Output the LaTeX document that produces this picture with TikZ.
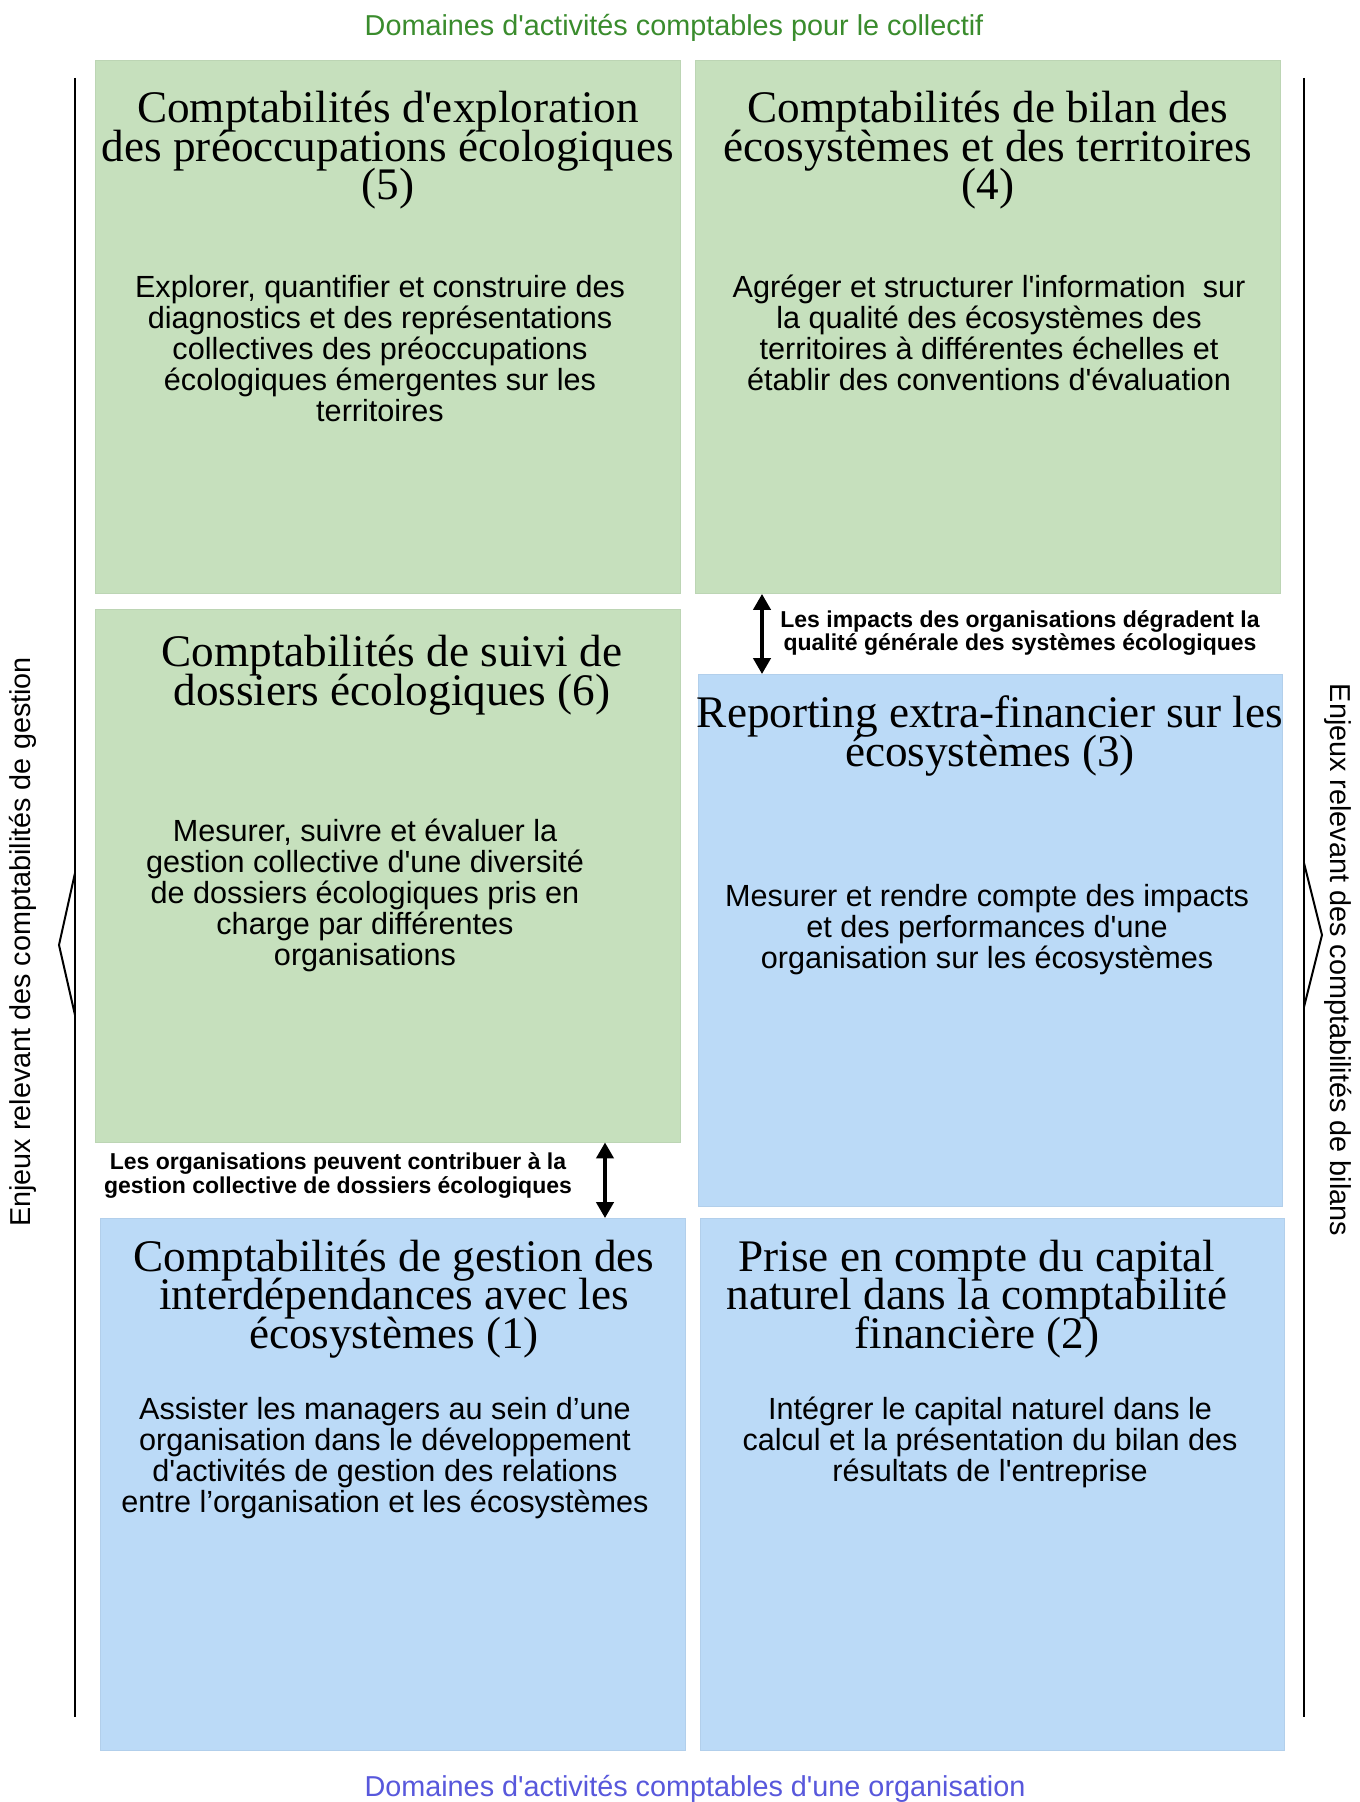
\documentclass[tikz,border=0pt]{standalone}
\usepackage{fontspec}
\setmainfont{Liberation Serif}
\setsansfont{Liberation Sans}
\usetikzlibrary{arrows.meta}
\newcommand{\apos}{\textquotesingle}
\newcommand{\tightlines}{\lineskiplimit=-30pt\relax\lineskip=0pt\relax}
\newcommand{\titlefont}{\fontsize{22.6}{19.3}\selectfont\tightlines}
\newcommand{\bodyfont}{\sffamily\fontsize{15.3}{15.5}\selectfont\tightlines}
\newcommand{\labelfont}{\sffamily\bfseries\fontsize{11.5}{11.6}\selectfont\tightlines}
\definecolor{boxgreen}{RGB}{198,224,189}
\definecolor{boxblue}{RGB}{187,218,247}
\definecolor{headgreen}{RGB}{58,140,45}
\definecolor{headblue}{RGB}{88,88,220}
\tikzset{
  greenbox/.style={fill=boxgreen,draw=boxgreen!95!black,line width=0.4pt,minimum width=292.5pt,minimum height=266.5pt,inner sep=0pt},
  bluebox/.style={fill=boxblue,draw=boxblue!95!black,line width=0.4pt,minimum width=292pt,minimum height=266pt,inner sep=0pt},
  titletext/.style={font={\titlefont},align=center,inner sep=0pt},
  bodytext/.style={font={\bodyfont},align=center,inner sep=0pt},
  arrowlabel/.style={font={\labelfont},align=center,inner sep=0pt},
  headtext/.style={font={\sffamily\fontsize{14.4}{15}\selectfont},inner sep=0pt},
  dblarrow/.style={line width=2pt,>={Triangle[width=8.5pt,length=8pt]},<->},
  sideline/.style={line width=1pt,line join=miter}
}
\begin{document}
\begin{tikzpicture}[x=0.5pt,y=-0.5pt]
\fill[white] (0,0) rectangle (1359,1802);
\useasboundingbox (0,0) rectangle (1359,1802);
\node[headtext,text=headgreen] (top) at (674,28) {Domaines d\apos activités comptables pour le collectif};
\node[headtext,text=headblue] (bot) at (695,1789) {Domaines d\apos activités comptables d\apos une organisation};
\node[greenbox] (b5) at (388,327) {};
\node[greenbox] (b4) at (988,327) {};
\node[greenbox] (b6) at (388,875.5) {};
\node[bluebox] (b3) at (990.5,940.5) {};
\node[bluebox,minimum width=292.5pt] (b1) at (393,1484.5) {};
\node[bluebox] (b2) at (992,1484.5) {};
\node[titletext] (t5) at (388,150.5) {Comptabilités d\apos exploration\\des préoccupations écologiques\\(5)};
\node[bodytext] (d5) at (380,348.5) {Explorer, quantifier et construire des\\diagnostics et des représentations\\collectives des préoccupations\\écologiques émergentes sur les\\territoires};
\node[titletext] (t4) at (988,150.5) {Comptabilités de bilan des\\écosystèmes et des territoires\\(4)};
\node[bodytext] (d4) at (989,333) {Agréger et structurer l\apos information~~sur\\la qualité des écosystèmes des\\territoires à différentes échelles et\\établir des conventions d\apos évaluation};
\node[titletext] (t6) at (392,675) {Comptabilités de suivi de\\dossiers écologiques (6)};
\node[bodytext] (d6) at (365,895) {Mesurer, suivre et évaluer la\\gestion collective d\apos une diversité\\de dossiers écologiques pris en\\charge par différentes\\organisations};
\node[titletext] (t3) at (990,736) {Reporting extra-financier sur les\\écosystèmes (3)};
\node[bodytext] (d3) at (987,930) {Mesurer et rendre compte des impacts\\et des performances d\apos une\\organisation sur les écosystèmes};
\node[titletext] (t1) at (394,1299) {Comptabilités de gestion des\\interdépendances avec les\\écosystèmes (1)};
\node[bodytext] (d1) at (385,1458.5) {Assister les managers au sein d’une\\organisation dans le développement\\d\apos activités de gestion des relations\\entre l’organisation et les écosystèmes};
\node[titletext] (t2) at (977,1299) {Prise en compte du capital\\naturel dans la comptabilité\\financière (2)};
\node[bodytext] (d2) at (990,1442) {Intégrer le capital naturel dans le\\calcul et la présentation du bilan des\\résultats de l\apos entreprise};
\coordinate (arR) at (762,0);
\coordinate (arL) at (605,0);
\draw[dblarrow] (b4.south -| arR) -- (b3.north -| arR);
\draw[dblarrow] (b6.south -| arL) -- (b1.north -| arL);
\node[arrowlabel] (lR) at (1020,633) {Les impacts des organisations dégradent la\\qualité générale des systèmes écologiques};
\node[arrowlabel] (lL) at (338,1175.5) {Les organisations peuvent contribuer à la\\gestion collective de dossiers écologiques};
\coordinate (L1) at (75,78);
\coordinate (L2) at (75,873);
\coordinate (L3) at (59,945);
\coordinate (L4) at (75,1015);
\coordinate (L5) at (75,1717);
\draw[sideline] (L1) -- (L5);
\draw[sideline] (L2) -- (L3) -- (L4);
\coordinate (R1) at (1304,78);
\coordinate (R2) at (1304,863);
\coordinate (R3) at (1322,935);
\coordinate (R4) at (1304,1007);
\coordinate (R5) at (1304,1717);
\draw[sideline] (R1) -- (R5);
\draw[sideline] (R2) -- (R3) -- (R4);
\node[headtext,rotate=90] (sL) at (23,942) {Enjeux relevant des comptabilités de gestion};
\node[headtext,rotate=-90] (sR) at (1338,960) {Enjeux relevant des comptabilités de bilans};
\end{tikzpicture}
\end{document}
